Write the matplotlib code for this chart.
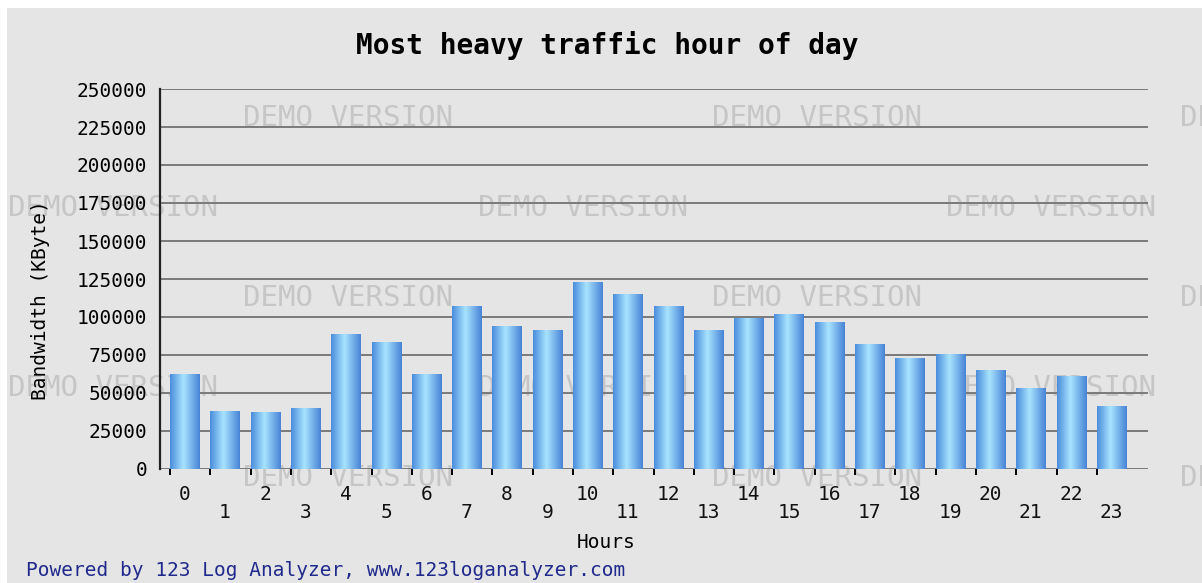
import numpy as np
import matplotlib
matplotlib.use("Agg")
import matplotlib.pyplot as plt
from matplotlib.colors import LinearSegmentedColormap
from matplotlib.patches import Rectangle
import matplotlib.transforms as mtransforms

# data
hours = list(range(24))
bandwidth = [62500, 38000, 37000, 40000, 88600, 83300, 62500, 107000,
             93600, 91000, 122800, 115000, 107000, 91200, 99000, 101800,
             96500, 82000, 72800, 75200, 65000, 53000, 61000, 41200]
y_ticks = [0, 25000, 50000, 75000, 100000, 125000, 150000, 175000, 200000, 225000, 250000]

title = "Most heavy traffic hour of day"
x_label = "Hours"
y_label = "Bandwidth (KByte)"
footer = "Powered by 123 Log Analyzer, www.123loganalyzer.com"
watermark = "DEMO VERSION"

W, H = 1202, 583
fig = plt.figure(figsize=(W / 100, H / 100), dpi=100, facecolor="white")
mono = "DejaVu Sans Mono"

# grey panel (thin white strip left/top like the original)
fig.patches.append(Rectangle((7 / W, 0), 1, 1 - 8 / H, transform=fig.transFigure,
                             facecolor="#e5e5e5", edgecolor="none", zorder=-5))

# watermark grid, behind the axes
wm_rows = [118, 208, 298, 388, 478]
for r, yy in enumerate(wm_rows):
    starts = [243, 712, 1180] if r % 2 == 0 else [8, 478, 946]
    for xx in starts:
        fig.text(xx / W, 1 - yy / H, watermark, family=mono, fontsize=21,
                 color="#c6c6c6", ha="left", va="center", zorder=-1)

ax = fig.add_axes([160 / W, 1 - 469 / H, (1148 - 160) / W, 380 / H])
ax.set_facecolor("none")

bar_w = 0.72
bars = ax.bar(hours, bandwidth, width=bar_w, color="none", edgecolor="none", zorder=2)

cmap = LinearSegmentedColormap.from_list(
    "bargrad", [(0.0, "#4b8ddc"), (0.45, "#a8e4ff"), (1.0, "#4884d6")])
grad = np.linspace(0, 1, 64).reshape(1, -1)
for b in bars:
    x0 = b.get_x()
    ax.imshow(grad, extent=[x0, x0 + b.get_width(), 0, b.get_height()],
              aspect="auto", cmap=cmap, zorder=2, interpolation="bilinear")

ax.set_xlim(-0.61, 23.91)
ax.set_ylim(0, 250000)
ax.set_yticks(y_ticks)
ax.set_yticklabels([str(v) for v in y_ticks], family=mono, fontsize=14)
ax.yaxis.grid(True, color="#7a7a7a", linewidth=1.4)
ax.set_axisbelow(True)
ax.tick_params(axis="y", length=0, pad=9)

ax.set_xticks([h - bar_w / 2 for h in hours])
ax.set_xticklabels([])
ax.tick_params(axis="x", length=4.5, width=1.4, color="black", direction="out")

for s in ["top", "right", "bottom"]:
    ax.spines[s].set_visible(False)
ax.spines["left"].set_color("#222222")
ax.spines["left"].set_linewidth(1.6)

# staggered hour labels
trans = mtransforms.blended_transform_factory(ax.transData, ax.transAxes)
for h in hours:
    off = -25 / 380 if h % 2 == 0 else -44 / 380
    ax.text(h, off, str(h), transform=trans, family=mono, fontsize=14,
            ha="center", va="center", color="#111111")

fig.text(607 / W, 1 - 45 / H, title, family=mono, fontsize=20, fontweight="bold",
         ha="center", va="center")
fig.text(606 / W, 1 - 543 / H, x_label, family=mono, fontsize=14, ha="center", va="center")
fig.text(41 / W, 1 - 300 / H, y_label, family=mono, fontsize=14, rotation=90,
         ha="center", va="center")
fig.text(26 / W, 1 - 571 / H, footer, family=mono, fontsize=14, color="#1f2a8c",
         ha="left", va="center")

fig.savefig("out.png", dpi=100, facecolor=fig.get_facecolor())
